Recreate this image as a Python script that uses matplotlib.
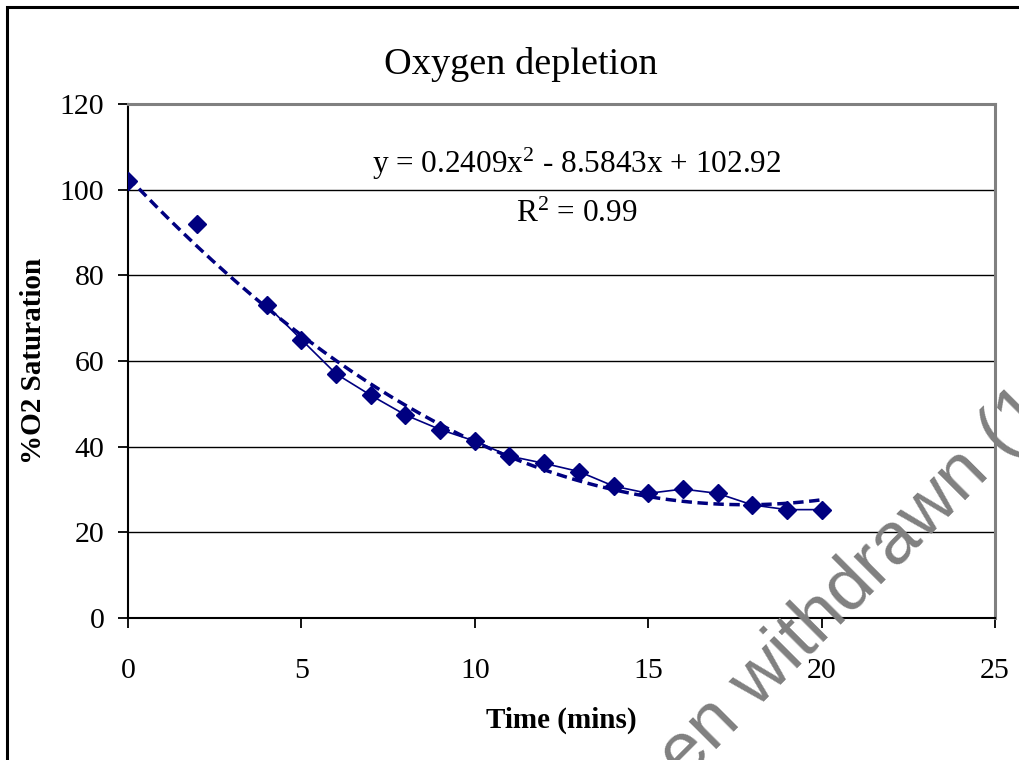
import numpy as np
import matplotlib
matplotlib.use("Agg")
import matplotlib.pyplot as plt
from matplotlib.patches import Rectangle

# data (x = 1 and x = 3 have no reading)
time_mins = [0, 1, 2, 3, 4, 5, 6, 7, 8, 9, 10, 11, 12, 13, 14, 15, 16, 17, 18, 19, 20]
o2_sat = [102, np.nan, 92, np.nan, 73, 65, 57, 52, 47.4, 44, 41.3, 37.8, 36.1,
          34.2, 30.8, 29.1, 30.1, 29.1, 26.4, 25.3, 25.3]

# polynomial trendline as given on the chart
trend_coef = [0.2409, -8.5843, 102.92]
r_squared = 0.99

x_ticks = [0, 5, 10, 15, 20, 25]
y_ticks = [0, 20, 40, 60, 80, 100, 120]

navy = "#000080"

plt.rcParams["font.family"] = ["Liberation Serif", "DejaVu Serif"]
plt.rcParams["mathtext.fontset"] = "custom"
plt.rcParams["mathtext.rm"] = "Liberation Serif"
plt.rcParams["mathtext.it"] = "Liberation Serif"

fig = plt.figure(figsize=(10.2, 7.6), dpi=100)
ax = fig.add_axes([128 / 1020, 142 / 760, 867 / 1020, 514 / 760])

# outer chart border (runs off the right and bottom edges)
fig.patches.append(Rectangle((7 / 1020, -0.05), 1.1, (760 - 7) / 760 + 0.05,
                             transform=fig.transFigure, fill=False,
                             edgecolor="black", linewidth=2.2))

ax.plot(time_mins, o2_sat, color=navy, linewidth=1.2, marker="D",
        markersize=9, markerfacecolor=navy, markeredgecolor=navy, zorder=3)

# trendline
xt = np.linspace(0, 20, 200)
yt = np.polyval(trend_coef, xt)
ax.plot(xt, yt, color=navy, linewidth=2.5, linestyle=(0, (3, 1.6)), zorder=2)

ax.set_xlim(0, 25)
ax.set_ylim(0, 120)
ax.set_xticks(x_ticks)
ax.set_yticks(y_ticks)
ax.yaxis.grid(True, color="black", linewidth=1)
ax.set_axisbelow(True)

for s in ["top", "right"]:
    ax.spines[s].set_color("#808080")
    ax.spines[s].set_linewidth(2.2)
for s in ["left", "bottom"]:
    ax.spines[s].set_color("black")
    ax.spines[s].set_linewidth(1.5)

ax.tick_params(axis="both", direction="out", length=7, width=1.3, labelsize=21.5)
ax.tick_params(axis="x", pad=22)
ax.tick_params(axis="y", pad=10)

fig.text(521 / 1020, 1 - 64 / 760, "Oxygen depletion", fontsize=27.5,
         ha="center", va="center")
ax.set_xlabel("Time (mins)", fontsize=21, fontweight="bold", labelpad=16)
ax.set_ylabel("%O2 Saturation", fontsize=21, fontweight="bold", labelpad=9)

eq = "y = %.4fx$^{2}$ - %.4fx + %.2f" % (trend_coef[0], -trend_coef[1], trend_coef[2])
ax.text(12.93, 106.0, eq, fontsize=22.5, ha="center", va="center")
ax.text(12.93, 94.3, "R$^{2}$ = %.2f" % r_squared, fontsize=22.5, ha="center", va="center")

# grey watermark crossing the lower right corner
fig.text(684 / 1020, -21 / 760, "en withdrawn (1", fontsize=53, color="#808080",
         family=["Liberation Sans", "DejaVu Sans"], rotation=45,
         rotation_mode="anchor", ha="left", va="baseline", zorder=10)

fig.savefig("out.png", dpi=100)
